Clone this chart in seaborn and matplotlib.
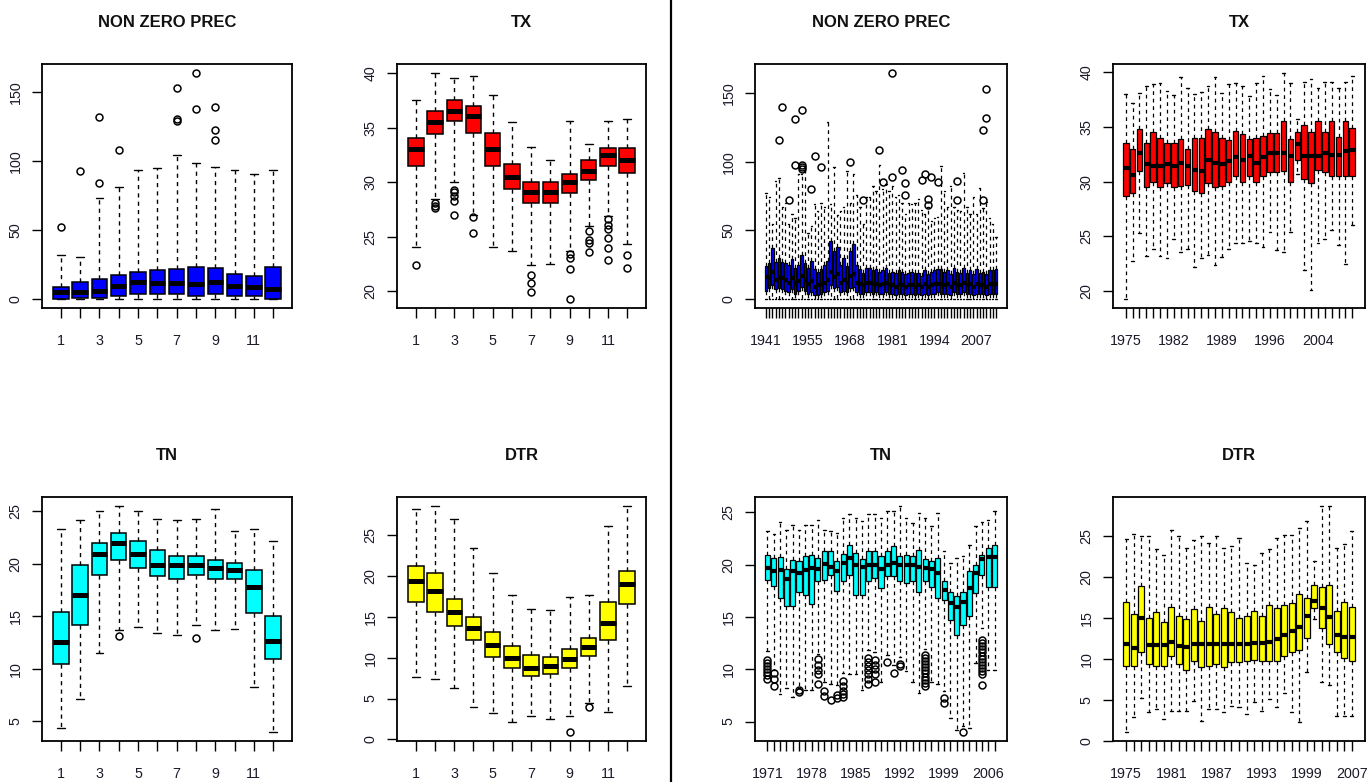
import numpy as np
import matplotlib
matplotlib.use("Agg")
import matplotlib.pyplot as plt
from matplotlib.lines import Line2D
import seaborn as sns

sns.set_style("ticks")
plt.rcParams["font.family"] = ["Liberation Sans", "DejaVu Sans"]

# ---------------- monthly climatology (left block) ----------------
months = [str(m) for m in range(1, 13)]

prec_m_lo = [0.1, 0.1, 0.1, 0.1, 0.1, 0.1, 0.1, 0.1, 0.1, 0.1, 0.1, 0.1]
prec_m_q1 = [0.3, 0.5, 0.8, 2.4, 3.4, 3.4, 3.4, 2.2, 3.4, 2.2, 2.2, 0.3]
prec_m_med = [4.9, 4.9, 5.6, 9.2, 12.2, 11.7, 11.7, 10.9, 12.4, 9.2, 9.0, 7.0]
prec_m_q3 = [8.5, 12.2, 14.8, 17.3, 19.7, 21.2, 22.1, 23.3, 22.4, 18.2, 17.0, 23.3]
prec_m_hi = [31.8, 30.9, 73.4, 81.0, 93.6, 94.8, 104.8, 98.5, 96.0, 93.6, 90.9, 93.6]
prec_m_out = [[52.5], [92.6], [83.9, 131.8], [108.0], [], [],
              [129.0, 130.8, 152.9], [137.6, 164.0], [115.2, 122.8, 139.0], [], [], []]

tx_m_lo = [24.1, 28.5, 30.0, 27.0, 24.1, 23.7, 22.4, 22.5, 23.7, 26.0, 26.9, 24.3]
tx_m_q1 = [31.5, 34.44, 35.6, 34.5, 31.5, 29.4, 28.1, 28.1, 29.0, 30.2, 31.5, 30.8]
tx_m_med = [33.0, 35.5, 36.55, 36.1, 33.0, 30.5, 29.1, 29.1, 30.0, 31.05, 32.5, 32.05]
tx_m_q3 = [34.08, 36.55, 37.5, 37.0, 34.5, 31.7, 30.0, 30.0, 30.75, 32.0, 33.1, 33.1]
tx_m_hi = [37.5, 40.0, 39.5, 39.7, 38.0, 35.5, 33.25, 32.0, 35.6, 33.5, 35.6, 35.8]
tx_m_out = [[22.4], [28.1, 27.8, 27.6], [29.3, 29.1, 28.7, 28.3, 27.0], [26.8, 25.3], [], [],
            [21.5, 20.8, 19.9], [], [23.4, 23.05, 22.0, 19.3], [25.5, 24.7, 24.4, 23.6],
            [26.6, 26.1, 25.7, 24.9, 24.0, 22.9], [23.3, 22.1]]

tn_m_lo = [4.4, 7.1, 11.5, 13.7, 14.0, 13.4, 13.2, 14.2, 13.7, 13.8, 8.25, 4.0]
tn_m_q1 = [10.5, 14.2, 18.9, 20.4, 19.6, 18.8, 18.6, 18.9, 18.6, 18.6, 15.3, 10.9]
tn_m_med = [12.6, 17.0, 20.95, 22.0, 20.9, 19.9, 19.9, 19.9, 19.6, 19.4, 17.8, 12.7]
tn_m_q3 = [15.46, 19.9, 22.0, 22.9, 22.2, 21.3, 20.7, 20.7, 20.4, 20.1, 19.4, 15.0]
tn_m_hi = [23.3, 24.2, 25.0, 25.5, 25.0, 24.3, 24.2, 24.3, 25.2, 23.1, 23.3, 22.2]
tn_m_out = [[], [], [], [13.1], [], [], [], [12.9], [], [], [], []]

dtr_m_lo = [7.6, 7.35, 6.3, 4.0, 3.2, 2.1, 2.9, 2.5, 2.8, 4.4, 3.4, 6.5]
dtr_m_q1 = [16.8, 15.6, 13.85, 12.2, 10.1, 8.8, 7.8, 8.0, 8.8, 10.25, 12.2, 16.6]
dtr_m_med = [19.45, 18.2, 15.6, 13.7, 11.6, 10.0, 8.8, 9.0, 9.9, 11.35, 14.3, 19.0]
dtr_m_q3 = [21.2, 20.4, 17.2, 14.95, 13.1, 11.4, 10.3, 10.1, 11.1, 12.4, 16.8, 20.6]
dtr_m_hi = [28.2, 28.6, 27.0, 23.4, 20.4, 17.7, 16.0, 15.8, 17.5, 17.7, 26.1, 28.6]
dtr_m_out = [[], [], [], [], [], [], [], [], [0.9], [3.9], [], []]

# ---------------- yearly distributions (right block) ----------------
prec_years = [1941, 1942, 1943, 1944, 1945] + list(range(1947, 2014))
prec_y_lo = [0.1] * 72
prec_y_q1 = [6, 8, 10, 7, 8, 7, 6, 5, 7, 4, 6, 9, 6, 4, 5, 3, 3, 4, 5, 6, 10, 8, 9, 5, 6, 5, 8, 9, 5,
             4, 4, 5, 5, 4, 5, 4, 4, 5, 4, 4, 3, 4, 4, 3, 4, 4, 3, 4, 3, 4, 3, 4, 4, 5, 4, 4, 4, 3, 5,
             4, 4, 5, 4, 4, 3, 4, 4, 4, 3, 4, 4, 4]
prec_y_med = [16, 15, 20, 14, 15, 15, 14, 12, 15, 12, 13, 17, 14, 11, 13, 9, 10, 11, 12, 14, 20, 16, 18,
              12, 14, 12, 17, 18, 12,
              11, 10, 12, 12, 11, 11, 10, 11, 12, 10, 10, 9, 11, 10, 9, 10, 10, 9, 10, 9, 11, 9, 10,
              11, 11, 11, 10, 11, 9, 12, 10, 10, 12, 10, 11, 9, 11, 10, 10, 9, 11, 11, 11]
prec_y_q3 = [24, 26, 37, 27, 30, 27, 26, 25, 29, 23, 25, 32, 26, 23, 28, 22, 20, 22, 25, 28, 42, 35, 38,
             25, 30, 24, 35, 40, 25,
             22, 19, 23, 23, 21, 22, 20, 21, 23, 19, 20, 19, 21, 20, 18, 19, 20, 19, 19, 17, 21, 18, 20,
             21, 22, 22, 20, 21, 18, 23, 20, 19, 23, 19, 21, 18, 22, 19, 20, 18, 21, 21, 22]
prec_y_hi = [77, 74, 55, 86, 88, 67, 70, 55, 62, 59, 91, 91, 93, 48, 53, 69, 64, 70, 67, 129, 69, 96, 61,
             64, 67, 93, 70, 91, 76,
             67, 55, 74, 74, 82, 79, 98, 80, 84, 79, 82, 74, 76, 70, 62, 70, 69, 70, 73, 65, 62, 67, 57,
             59, 60, 97, 79, 67, 82, 67, 65, 64, 92, 67, 62, 74, 62, 81, 66, 71, 59, 55, 45]
prec_y_out = {5: [115.8], 6: [139.6], 8: [72.0], 10: [97.8, 131.0], 12: [95.0, 96.5, 98.0, 137.6],
              15: [80.0], 16: [104.0], 18: [96.0], 27: [99.5], 31: [72.0], 36: [108.5], 37: [85.0],
              40: [88.6, 164.6], 43: [94.0], 44: [76.0, 84.7], 49: [86.7], 50: [91.0],
              51: [68.7, 72.8], 52: [88.6], 54: [85.0], 60: [72.0, 85.7], 68: [72.0, 123.0],
              69: [131.8, 153.0]}

tx_years = list(range(1975, 2002)) + list(range(2003, 2010))
tx_y_lo = [19.3, 22.8, 25.3, 23.2, 23.9, 23.2, 23.0, 24.8, 23.6, 23.9, 22.2, 23.0, 23.3, 22.4, 23.1, 23.9,
           24.4, 24.4, 24.6, 24.4, 24.05, 25.4, 23.8, 23.6, 25.4, 30.7, 21.9, 20.1, 24.4, 24.8, 25.6,
           24.2, 22.5, 26.0]
tx_y_q1 = [28.7, 29.0, 31.0, 29.5, 30.0, 29.5, 29.9, 29.5, 29.6, 29.7, 29.1, 29.0, 29.9, 29.5, 29.6, 30.0,
           30.5, 30.0, 30.5, 30.0, 30.5, 30.9, 30.9, 31.0, 30.0, 32.0, 30.2, 29.9, 31.1, 30.9, 30.5,
           30.55, 30.55, 30.55]
tx_y_med = [31.2, 30.6, 32.6, 31.6, 31.4, 31.4, 31.6, 31.4, 31.7, 31.4, 31.1, 31.0, 32.0, 31.7, 31.6, 31.9,
            32.2, 32.0, 32.3, 31.7, 32.2, 32.6, 32.6, 32.6, 32.3, 33.4, 32.3, 32.3, 32.3, 32.6, 32.4,
            32.4, 32.8, 32.9]
tx_y_q3 = [33.55, 33.0, 34.8, 33.5, 34.5, 34.0, 33.5, 33.5, 33.9, 33.0, 34.0, 34.0, 34.8, 34.5, 34.0, 33.8,
           34.6, 34.3, 33.9, 34.0, 34.2, 34.4, 34.4, 35.55, 33.9, 34.5, 35.2, 34.5, 35.55, 34.5, 35.55,
           34.1, 35.55, 34.9]
tx_y_hi = [38.0, 37.2, 38.1, 38.7, 38.9, 39.0, 38.3, 37.9, 39.5, 38.5, 38.0, 38.2, 38.7, 39.5, 38.1, 38.9,
           39.0, 38.7, 37.8, 39.0, 39.6, 38.4, 37.9, 39.9, 39.0, 35.7, 39.1, 39.4, 38.5, 39.1, 39.1,
           38.5, 39.1, 39.6]

tn_years = list(range(1971, 2008))
tn_y_lo = [11.7, 9.9, 7.6, 8.2, 7.3, 8.2, 8.0, 8.0, 11.5, 8.8, 8.6, 8.5, 9.6, 9.5, 9.5,
           8.0, 11.8, 11.6, 8.8, 11.4, 10.4, 11.2, 9.8, 8.8, 7.7, 11.9, 8.8, 8.6, 7.9, 5.3,
           4.2, 4.6, 4.4, 10.6, 13.9, 9.9, 9.9]
tn_y_q1 = [18.5, 18.0, 16.8, 16.0, 16.0, 17.4, 17.1, 16.2, 18.4, 18.5, 19.0, 17.5, 18.4, 19.0, 17.1,
           17.1, 18.4, 18.7, 17.75, 18.9, 18.9, 18.4, 18.2, 18.4, 17.4, 18.4, 17.9, 16.8, 16.6, 14.7,
           13.3, 14.25, 15.05, 17.3, 19.0, 17.9, 17.9]
tn_y_med = [19.7, 19.4, 19.5, 18.65, 19.35, 19.2, 19.5, 19.7, 19.6, 20.05, 19.8, 19.4, 20.15, 20.6, 20.0,
            19.8, 20.0, 20.0, 19.6, 20.0, 20.15, 20.0, 20.0, 20.0, 19.8, 19.7, 19.6, 19.2, 17.6, 16.3,
            15.9, 16.4, 17.8, 19.2, 20.5, 20.7, 20.7]
tn_y_q3 = [20.9, 20.6, 20.7, 19.6, 20.4, 20.3, 20.8, 20.9, 20.6, 21.3, 21.3, 20.3, 21.0, 21.9, 21.1,
           20.5, 21.3, 21.3, 20.8, 21.3, 21.75, 20.8, 20.95, 20.8, 21.4, 20.5, 20.3, 20.6, 18.4, 17.4,
           17.0, 17.4, 19.35, 20.0, 20.95, 21.6, 21.9]
tn_y_hi = [23.2, 22.9, 24.1, 23.3, 23.8, 23.3, 23.8, 23.8, 24.3, 23.3, 23.2, 23.0, 24.5, 24.8, 24.5,
           24.2, 24.8, 24.8, 24.5, 25.1, 25.1, 25.6, 24.5, 24.0, 24.9, 24.5, 23.7, 24.9, 21.3, 20.2,
           20.6, 20.8, 21.9, 23.7, 24.1, 24.3, 25.1]
tn_y_out = {1: [10.9, 10.6, 10.3, 10.0, 9.7, 9.4, 9.1], 2: [9.6, 9.1, 8.4], 6: [8.0, 7.8],
            9: [11.0, 10.4, 9.9, 9.5, 8.6], 10: [7.9, 7.4], 11: [7.1], 12: [7.5, 7.2],
            13: [8.9, 8.4, 7.9, 7.6, 7.3],
            17: [11.1, 10.7, 10.3, 9.9, 9.5, 9.1, 8.6], 18: [10.9, 10.4, 10.0, 9.5, 8.8],
            20: [10.7], 21: [9.6], 22: [10.5, 10.3],
            26: [11.4, 11.1, 10.8, 10.5, 10.2, 9.9, 9.6, 9.3, 9.0, 8.7, 8.4],
            29: [7.2, 6.8], 32: [4.0],
            35: [12.8, 12.5, 12.2, 11.9, 11.6, 11.3, 11.0, 10.7, 10.4, 10.1, 9.8, 9.5, 8.5]}

dtr_years = list(range(1975, 2001)) + list(range(2003, 2008))
dtr_y_lo = [1.1, 2.9, 5.2, 3.5, 3.9, 2.7, 3.7, 3.7, 3.6, 4.9, 2.5, 3.9, 3.9, 3.5, 4.3, 4.1,
            3.3, 4.8, 3.7, 5.1, 4.1, 5.9, 3.5, 2.3, 8.4, 14.9, 7.2, 6.8, 3.1, 3.1, 3.1]
dtr_y_q1 = [9.2, 9.2, 10.9, 9.4, 9.2, 9.2, 10.4, 9.4, 8.7, 9.8, 9.0, 9.2, 9.4, 9.0, 9.6, 9.6,
            9.8, 9.9, 9.8, 9.8, 9.8, 10.4, 10.9, 11.1, 12.6, 16.2, 13.8, 11.8, 10.9, 10.1, 9.8]
dtr_y_med = [11.9, 11.3, 15.0, 11.7, 11.7, 11.7, 12.1, 11.6, 11.5, 11.8, 11.8, 11.8, 11.8, 11.8, 11.8,
             11.9, 11.9, 12.0, 12.0, 12.1, 12.5, 12.9, 13.4, 13.9, 15.3, 17.1, 16.2, 15.2, 13.0, 12.7,
             12.7]
dtr_y_q3 = [17.0, 15.5, 18.9, 15.0, 15.7, 14.5, 16.4, 15.3, 14.9, 16.1, 14.7, 16.4, 15.5, 16.3, 15.7,
            15.0, 15.3, 15.9, 15.3, 16.6, 16.3, 16.6, 16.8, 18.0, 17.5, 19.0, 18.8, 19.0, 15.9, 17.0,
            16.4]
dtr_y_hi = [24.7, 25.3, 25.0, 25.0, 23.5, 22.7, 25.8, 25.0, 23.6, 24.6, 25.0, 24.2, 25.0, 23.6, 23.8,
            24.8, 21.7, 21.5, 23.0, 23.4, 24.8, 25.2, 25.2, 26.0, 26.9, 22.0, 28.7, 28.7, 23.6, 24.1,
            25.6]

BLUE, RED, CYAN, YELLOW = "#0000FF", "#FF0000", "#00FFFF", "#FFFF00"

fig = plt.figure(figsize=(13.67, 7.82), dpi=100)

W, H = 1367.0, 782.0


def axes_px(left, top, right, bottom):
    return fig.add_axes([left / W, 1 - bottom / H, (right - left) / W, (bottom - top) / H])


def panel(ax, labels, lo, q1, med, q3, hi, fliers, color, title, yticks, step):
    n = len(labels)
    if isinstance(fliers, dict):
        fl = [fliers.get(i + 1, []) for i in range(n)]
    else:
        fl = fliers
    stats = [dict(whislo=lo[i], q1=q1[i], med=med[i], q3=q3[i], whishi=hi[i],
                  fliers=np.array(fl[i], dtype=float), label=labels[i]) for i in range(n)]
    many = n > 20
    ax.bxp(stats, positions=np.arange(1, n + 1), widths=0.8, patch_artist=True,
           showfliers=True, manage_ticks=False,
           boxprops=dict(facecolor=color, edgecolor="black", linewidth=0.9 if many else 1.1),
           medianprops=dict(color="black", linewidth=3.0 if many else 3.6, solid_capstyle="butt"),
           whiskerprops=dict(color="black", linestyle=(0, (3, 3)), linewidth=0.9 if many else 1.0),
           capprops=dict(color="black", linewidth=1.0),
           flierprops=dict(marker="o", markerfacecolor="none", markeredgecolor="black",
                           markersize=5, markeredgewidth=1.1))
    allv = list(lo) + list(hi) + [v for f in fl for v in f]
    vmin, vmax = min(allv), max(allv)
    r = vmax - vmin
    ax.set_ylim(vmin - 0.04 * r, vmax + 0.04 * r)
    ax.set_xlim(0.5 - 0.04 * n, n + 0.5 + 0.04 * n)
    ax.set_xticks(np.arange(1, n + 1))
    ax.set_xticklabels([lab if i % step == 0 else "" for i, lab in enumerate(labels)])
    ax.set_yticks(yticks)
    ax.set_yticklabels([str(t) for t in yticks], rotation=90, va="center")
    ax.tick_params(axis="both", direction="out", length=7, width=1.0, colors="black",
                   labelsize=10.3, labelcolor="#1a1a2a")
    ax.tick_params(axis="x", pad=12)
    ax.tick_params(axis="y", pad=7)
    for s in ax.spines.values():
        s.set_linewidth(1.3)
        s.set_color("black")
        s.set_visible(True)
    ax.set_title(title, fontsize=12, fontweight="bold", pad=27, color="#111111")


cols = [(42, 292), (397, 646), (755, 1007), (1113, 1365)]
rows = [(64, 308), (497, 741)]

ax = axes_px(cols[0][0], rows[0][0], cols[0][1], rows[0][1])
panel(ax, months, prec_m_lo, prec_m_q1, prec_m_med, prec_m_q3, prec_m_hi, prec_m_out,
      BLUE, "NON ZERO PREC", [0, 50, 100, 150], 2)
ax = axes_px(cols[1][0], rows[0][0], cols[1][1], rows[0][1])
panel(ax, months, tx_m_lo, tx_m_q1, tx_m_med, tx_m_q3, tx_m_hi, tx_m_out,
      RED, "TX", [20, 25, 30, 35, 40], 2)
ax = axes_px(cols[0][0], rows[1][0], cols[0][1], rows[1][1])
panel(ax, months, tn_m_lo, tn_m_q1, tn_m_med, tn_m_q3, tn_m_hi, tn_m_out,
      CYAN, "TN", [5, 10, 15, 20, 25], 2)
ax = axes_px(cols[1][0], rows[1][0], cols[1][1], rows[1][1])
panel(ax, months, dtr_m_lo, dtr_m_q1, dtr_m_med, dtr_m_q3, dtr_m_hi, dtr_m_out,
      YELLOW, "DTR", [0, 5, 10, 15, 20, 25], 2)

ax = axes_px(cols[2][0], rows[0][0], cols[2][1], rows[0][1])
panel(ax, [str(y) for y in prec_years], prec_y_lo, prec_y_q1, prec_y_med, prec_y_q3, prec_y_hi,
      prec_y_out, BLUE, "NON ZERO PREC", [0, 50, 100, 150], 13)
ax = axes_px(cols[3][0], rows[0][0], cols[3][1], rows[0][1])
panel(ax, [str(y) for y in tx_years], tx_y_lo, tx_y_q1, tx_y_med, tx_y_q3, tx_y_hi, {},
      RED, "TX", [20, 25, 30, 35, 40], 7)
ax = axes_px(cols[2][0], rows[1][0], cols[2][1], rows[1][1])
panel(ax, [str(y) for y in tn_years], tn_y_lo, tn_y_q1, tn_y_med, tn_y_q3, tn_y_hi, tn_y_out,
      CYAN, "TN", [5, 10, 15, 20, 25], 7)
ax = axes_px(cols[3][0], rows[1][0], cols[3][1], rows[1][1])
panel(ax, [str(y) for y in dtr_years], dtr_y_lo, dtr_y_q1, dtr_y_med, dtr_y_q3, dtr_y_hi, {},
      YELLOW, "DTR", [0, 5, 10, 15, 20, 25], 6)

# separator between the monthly and the yearly blocks
fig.add_artist(Line2D([670.5 / W, 670.5 / W], [0, 1], color="black", linewidth=1.6))

fig.savefig("out.png", dpi=100, facecolor="white")
